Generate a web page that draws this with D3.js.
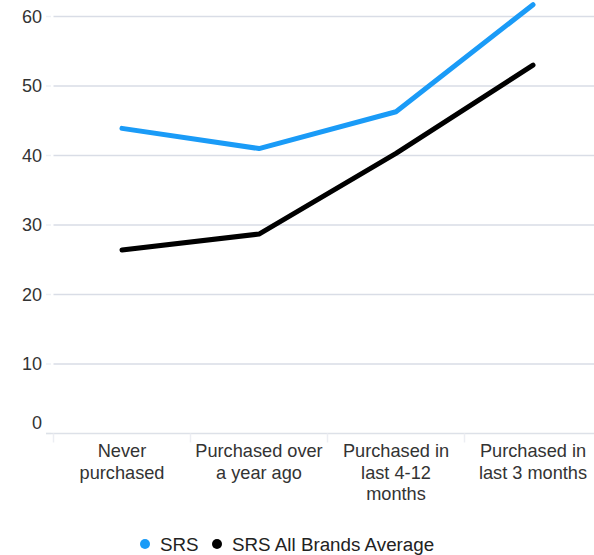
<!DOCTYPE html>
<html><head><meta charset="utf-8">
<script src="https://cdn.jsdelivr.net/npm/d3@7"></script>
<style>body{margin:0;background:#fff}svg{display:block;font-family:"Liberation Sans",Arial,sans-serif}</style>
</head><body><svg id="c" width="594" height="555"></svg>
<script>
const categories = [["Never","purchased"],["Purchased over","a year ago"],["Purchased in","last 4-12","months"],["Purchased in","last 3 months"]];
const srs = [43.9, 41.0, 46.3, 61.7];
const allBrands = [26.4, 28.7, 40.3, 53.0];
const yTicks = [0,10,20,30,40,50,60];
const seriesNames = ["SRS","SRS All Brands Average"];
const seriesColors = ["#1a9bf7","#000000"];

(function(){
const svg = d3.select("#c");
const pLeft = 53.5, pRight = 601.5, pTop = 16.5, pBottom = 433.5;
const x = d3.scaleBand().domain(d3.range(categories.length)).range([pLeft,pRight]);
const y = d3.scaleLinear().domain([0,60]).range([pBottom,pTop]);

// gridlines
const grid = svg.append("g");
grid.selectAll("line.g").data(yTicks.filter(d=>d>0)).join("line").attr("class","g")
  .attr("x1",pLeft).attr("x2",594).attr("y1",d=>y(d)).attr("y2",d=>y(d))
  .attr("stroke","#d9dde6").attr("stroke-width",1.5);
grid.selectAll("line.t").data(yTicks).join("line").attr("class","t")
  .attr("x1",46).attr("x2",51).attr("y1",d=>y(d)).attr("y2",d=>y(d))
  .attr("stroke","#eef0f4").attr("stroke-width",1.5);

// y axis labels
const yAxis = svg.append("g").attr("transform",`translate(42,0)`)
  .call(d3.axisLeft(y).tickValues(yTicks).tickSize(0).tickPadding(0));
yAxis.select(".domain").remove();
yAxis.selectAll("text").attr("font-size",18).attr("fill","#333")
  .attr("font-family","Liberation Sans, Arial, sans-serif")
  .attr("dy", d => d===0 ? "-0.28em" : "0.32em");

// x axis
svg.append("line").attr("x1",46).attr("x2",594).attr("y1",pBottom).attr("y2",pBottom)
  .attr("stroke","#dde1e8").attr("stroke-width",1.5);
svg.selectAll("line.xt").data(d3.range(categories.length+1)).join("line").attr("class","xt")
  .attr("x1",i=>pLeft+i*x.bandwidth()).attr("x2",i=>pLeft+i*x.bandwidth())
  .attr("y1",pBottom).attr("y2",pBottom+9).attr("stroke","#eceef3").attr("stroke-width",1.5);
const xl = svg.append("g");
categories.forEach((lines,i)=>{
  const cx = x(i)+x.bandwidth()/2;
  const t = xl.append("text").attr("x",cx).attr("y",457)
    .attr("text-anchor","middle").attr("font-size",18.2).attr("fill","#333");
  lines.forEach((l,j)=>t.append("tspan").attr("x",cx).attr("dy",j?21.5:0).text(l));
});

// lines
const line = d3.line().x((d,i)=>x(i)+x.bandwidth()/2).y(d=>y(d));
[srs,allBrands].forEach((s,k)=>{
  svg.append("path").datum(s).attr("d",line).attr("fill","none")
    .attr("stroke",seriesColors[k]).attr("stroke-width",5)
    .attr("stroke-linecap","round").attr("stroke-linejoin","round");
});

// legend
const lg = svg.append("g");
const lx = [145,217];
seriesNames.forEach((n,k)=>{
  lg.append("circle").attr("cx",lx[k]).attr("cy",544).attr("r",5).attr("fill",seriesColors[k]);
  lg.append("text").attr("x",lx[k]+15).attr("y",550.5).attr("font-size",18.8).attr("fill","#222").text(n);
});
})();
</script></body></html>
